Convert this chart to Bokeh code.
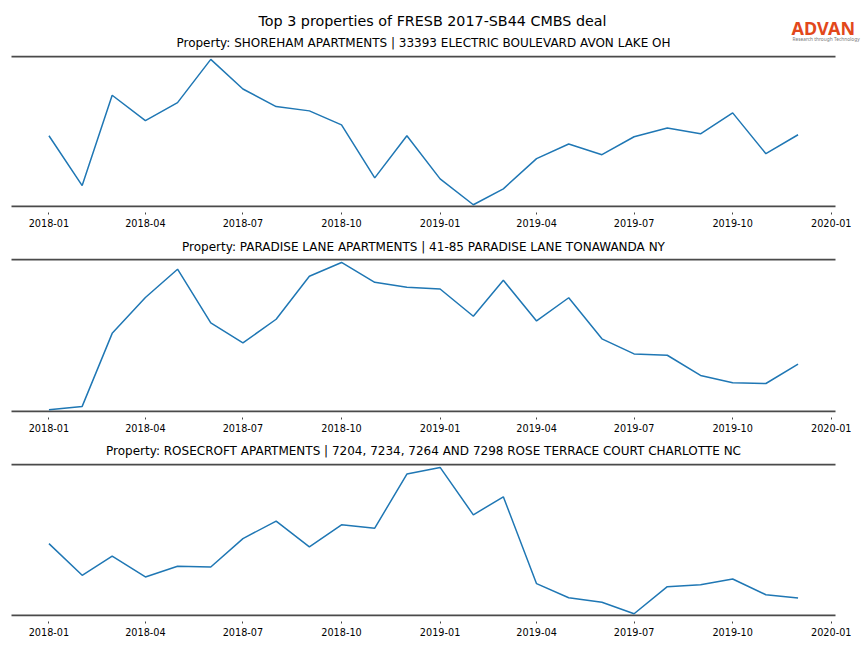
import pandas as pd
from bokeh.plotting import figure
from bokeh.layouts import column
from bokeh.models import (Range1d, FixedTicker, DatetimeTickFormatter,
                          DatetimeAxis, Label)
from bokeh.embed import file_html
from bokeh.resources import INLINE

# ---------------- data ----------------
main_title = "Top 3 properties of FRESB 2017-SB44 CMBS deal"
titles = [
    "Property: SHOREHAM APARTMENTS | 33393 ELECTRIC BOULEVARD AVON LAKE OH",
    "Property: PARADISE LANE APARTMENTS | 41-85 PARADISE LANE TONAWANDA NY",
    "Property: ROSECROFT APARTMENTS | 7204, 7234, 7264 AND 7298 ROSE TERRACE COURT CHARLOTTE NC",
]
months = ["2018-01", "2018-02", "2018-03", "2018-04", "2018-05", "2018-06",
          "2018-07", "2018-08", "2018-09", "2018-10", "2018-11", "2018-12",
          "2019-01", "2019-02", "2019-03", "2019-04", "2019-05", "2019-06",
          "2019-07", "2019-08", "2019-09", "2019-10", "2019-11", "2019-12"]
shoreham = [70.7, 20.7, 111.4, 86.0, 104.0, 147.4, 117.7, 100.0, 95.7, 81.7,
            28.4, 70.7, 27.4, 1.4, 17.4, 47.7, 62.4, 51.7, 69.7, 78.4,
            72.7, 93.7, 52.7, 71.7]
paradise = [1.7, 5.0, 77.4, 113.0, 141.0, 87.7, 68.0, 91.4, 134.0, 147.7,
            128.0, 123.0, 121.4, 94.4, 130.0, 89.7, 112.7, 72.0, 57.0, 55.7,
            35.7, 28.4, 27.7, 47.0]
rosecroft = [72.0, 40.4, 59.4, 38.7, 49.4, 48.7, 77.0, 94.4, 68.7, 90.7,
             87.4, 141.4, 148.0, 100.7, 118.7, 32.0, 18.0, 13.4, 2.0, 29.0,
             31.0, 36.7, 21.0, 17.7]
series = [shoreham, paradise, rosecroft]
tick_labels = ["2018-01", "2018-04", "2018-07", "2018-10", "2019-01",
               "2019-04", "2019-07", "2019-10", "2020-01"]

# ---------------- styling ----------------
FONT = "DejaVu Sans"
W = 864
LEFT, RIGHT = 11, 29          # gap between page edge and the spines
AX_W = W - LEFT - RIGHT       # spine length
CX = LEFT + AX_W / 2          # centre of the spines
SPINE = "#4a4a4a"
LINE = "#1f77b4"

dates = pd.to_datetime(months)
xspan = dates[-1] - dates[0]
x_lo = dates[0] - 0.05 * xspan
x_hi = dates[-1] + 0.05 * xspan
dx = x_hi - x_lo
view_lo = (x_lo - dx * (LEFT / AX_W)).to_pydatetime()
view_hi = (x_hi + dx * (RIGHT / AX_W)).to_pydatetime()
tick_ms = [pd.Timestamp(t + "-01").value / 1e6 for t in tick_labels]


def strip(height):
    """A full-width text strip whose data coordinates equal its pixels."""
    s = figure(frame_width=W, frame_height=height,
               x_range=Range1d(0, W), y_range=Range1d(height, 0),
               output_backend="svg", toolbar_location=None,
               min_border=0, outline_line_color=None)
    s.axis.visible = False
    s.grid.visible = False
    return s


def subtitle(fig, text, y):
    fig.add_layout(Label(x=CX, y=y, text=text, text_align="center",
                         text_baseline="middle", text_font=FONT,
                         text_font_size="12px", text_color="black"))


# header: main title, logo, first subplot title
header = strip(52)
header.add_layout(Label(x=W / 2, y=20, text=main_title, text_align="center",
                        text_baseline="middle", text_font=FONT,
                        text_font_size="14.3px", text_color="black"))
header.add_layout(Label(x=791, y=27, text="ADVAN", text_align="left",
                        text_baseline="middle", text_font="Noto Sans",
                        text_font_size="18px", text_font_style="bold",
                        text_color="#e2481b"))
header.add_layout(Label(x=792, y=38, text="Research through Technology",
                        text_align="left", text_baseline="middle",
                        text_font="Noto Sans", text_font_size="4.8px",
                        text_color="#777777"))
subtitle(header, titles[0], 42)

spine_gap = [150, 152, 151]   # pixel distance between top and bottom spine
tops = [3, 0, 0]
figs = [header]
for i, vals in enumerate(series):
    if i > 0:
        t = strip(28)
        subtitle(t, titles[i], 16 if i == 1 else 15)
        figs.append(t)
    lo, hi = min(vals), max(vals)
    span = hi - lo
    y_lo = lo - 0.012 * span
    y_hi = hi + 0.02 * span
    e = (y_hi - y_lo) / spine_gap[i]          # one pixel in data units
    p = figure(frame_width=W, frame_height=spine_gap[i] + 2,
               x_range=Range1d(view_lo, view_hi),
               y_range=Range1d(y_lo - e, y_hi + e),
               x_axis_type=None, y_axis_location=None,
               output_backend="svg", toolbar_location=None,
               min_border_left=0, min_border_right=0,
               min_border_top=tops[i], min_border_bottom=23,
               outline_line_color=None)
    p.grid.visible = False
    ax = DatetimeAxis(ticker=FixedTicker(ticks=tick_ms),
                      formatter=DatetimeTickFormatter(days="%Y-%m", months="%Y-%m",
                                                      years="%Y-%m"))
    ax.axis_line_color = None
    ax.major_tick_in = -5
    ax.major_tick_out = 7
    ax.major_tick_line_color = "#444444"
    ax.minor_tick_line_color = None
    ax.major_label_standoff = 4
    ax.major_label_text_font = FONT
    ax.major_label_text_font_size = "9.7px"
    ax.major_label_text_color = "black"
    p.add_layout(ax, "below")
    # top and bottom spines
    p.segment(x0=[x_lo, x_lo], x1=[x_hi, x_hi], y0=[y_lo, y_hi], y1=[y_lo, y_hi],
              line_color=SPINE, line_width=2)
    p.line(x=dates, y=vals, line_color=LINE, line_width=1.5)
    figs.append(p)

layout = column(*figs, spacing=0)
open("out.html", "w").write(file_html(layout, INLINE))
